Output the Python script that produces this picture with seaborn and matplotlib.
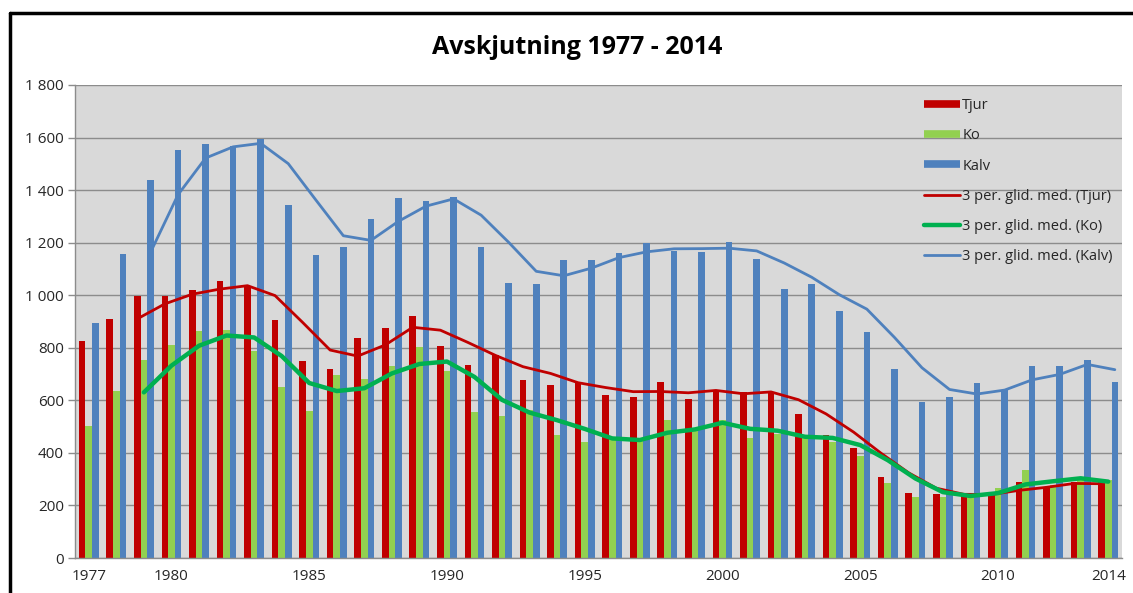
import numpy as np
import pandas as pd
import matplotlib
matplotlib.use("Agg")
import matplotlib.pyplot as plt
from matplotlib.lines import Line2D
from matplotlib.ticker import FuncFormatter
import seaborn as sns

# Data
years = list(range(1977, 2015))
tjur = [825, 909, 996, 996, 1020, 1054, 1035, 907, 748, 719, 838, 875, 921, 805,
        735, 773, 676, 658, 667, 621, 611, 669, 606, 638, 631, 627, 549, 469,
        419, 307, 246, 244, 237, 244, 291, 272, 288, 288]
ko = [504, 635, 752, 809, 862, 869, 787, 650, 561, 695, 682, 730, 803, 710,
      554, 541, 565, 467, 442, 456, 449, 525, 494, 525, 456, 472, 456, 443,
      390, 284, 234, 234, 240, 267, 333, 276, 301, 295]
kalv = [895, 1156, 1438, 1554, 1574, 1566, 1594, 1342, 1152, 1185, 1289, 1370,
        1358, 1372, 1184, 1048, 1041, 1133, 1135, 1161, 1199, 1170, 1163, 1204,
        1139, 1025, 1041, 940, 860, 719, 593, 612, 667, 638, 729, 729, 752, 669]
series = ["Tjur", "Ko", "Kalv"]
tick_years = [1977, 1980, 1985, 1990, 1995, 2000, 2005, 2010, 2014]

bar_colors = {"Tjur": "#C00000", "Ko": "#92D050", "Kalv": "#4F81BD"}
ma_colors = {"Tjur": "#C00000", "Ko": "#00B050", "Kalv": "#4F81BD"}
ma_widths = {"Tjur": 2.0, "Ko": 3.2, "Kalv": 2.0}

df = pd.DataFrame({"year": years, "Tjur": tjur, "Ko": ko, "Kalv": kalv})
long = df.melt(id_vars="year", value_vars=series, var_name="art", value_name="antal")
long["year"] = long["year"].astype(str)

sns.set_theme(style="white")
plt.rcParams["font.family"] = ["Open Sans", "DejaVu Sans"]

fig = plt.figure(figsize=(11.33, 5.93), dpi=100)
ax = fig.add_axes([75 / 1133, 1 - 558 / 593, (1122 - 75) / 1133, (558 - 85) / 593])
ax.set_facecolor("#D9D9D9")

width = 0.72
sns.barplot(data=long, x="year", y="antal", hue="art", hue_order=series,
            order=[str(y) for y in years], palette=bar_colors, saturation=1,
            width=width, gap=0, dodge=True, legend=False, linewidth=0,
            ax=ax, zorder=2)

# 3-period moving averages, drawn at each series' bar offset
pos = np.arange(len(years))
step = width / 3
for i, s in enumerate(series):
    ma = df[s].rolling(3).mean()
    sns.lineplot(x=pos + (i - 1) * step, y=ma.values, color=ma_colors[s],
                 linewidth=ma_widths[s], ax=ax, zorder=3)

ax.set_xlim(-0.5, len(years) - 0.5)
ax.set_ylim(0, 1800)
ax.set_yticks(range(0, 1801, 200))
ax.yaxis.set_major_formatter(FuncFormatter(lambda v, p: f"{int(v):,}".replace(",", " ")))
ax.grid(axis="y", color="#8C8C8C", linewidth=1, zorder=0)
ax.set_axisbelow(True)

ax.set_xticks([years.index(y) for y in tick_years])
ax.set_xticklabels([str(y) for y in tick_years])
ax.set_xticks(np.arange(-0.5, len(years)), minor=True)
ax.tick_params(axis="x", which="major", length=0, pad=8, labelsize=11, labelcolor="#262626")
ax.tick_params(axis="x", which="minor", length=5, width=1, color="#8C8C8C", direction="out")
ax.tick_params(axis="y", length=5, width=1, color="#8C8C8C", labelsize=11,
               labelcolor="#262626", pad=3, left=True)
ax.set_xlabel("")
ax.set_ylabel("")

for side in ["top", "right"]:
    ax.spines[side].set_visible(False)
for side in ["left", "bottom"]:
    ax.spines[side].set_color("#8C8C8C")
    ax.spines[side].set_linewidth(1)

fig.text(0.509, 1 - 47 / 593, "Avskjutning 1977 - 2014", ha="center", va="center",
         fontsize=18, fontweight="bold", color="black")

handles = [Line2D([], [], color=bar_colors[s], lw=5.5, solid_capstyle="butt") for s in series]
handles += [Line2D([], [], color=ma_colors[s], lw=ma_widths[s]) for s in series]
labels = series + [f"3 per. glid. med. ({s})" for s in series]
ax.legend(handles, labels, loc="upper left", bbox_to_anchor=(0.805, 0.985),
          frameon=False, fontsize=10.5, handlelength=2.5, handletextpad=0.15,
          labelspacing=1.05, borderaxespad=0)

# outer chart border (top and left edges are visible in the reference)
fig.add_artist(Line2D([10 / 1133, 10 / 1133], [0, 1 - 13 / 593], color="black", lw=2.5,
                      transform=fig.transFigure))
fig.add_artist(Line2D([10 / 1133, 1], [1 - 13 / 593, 1 - 13 / 593], color="black", lw=2.5,
                      transform=fig.transFigure))

fig.savefig("out.png", dpi=100)
